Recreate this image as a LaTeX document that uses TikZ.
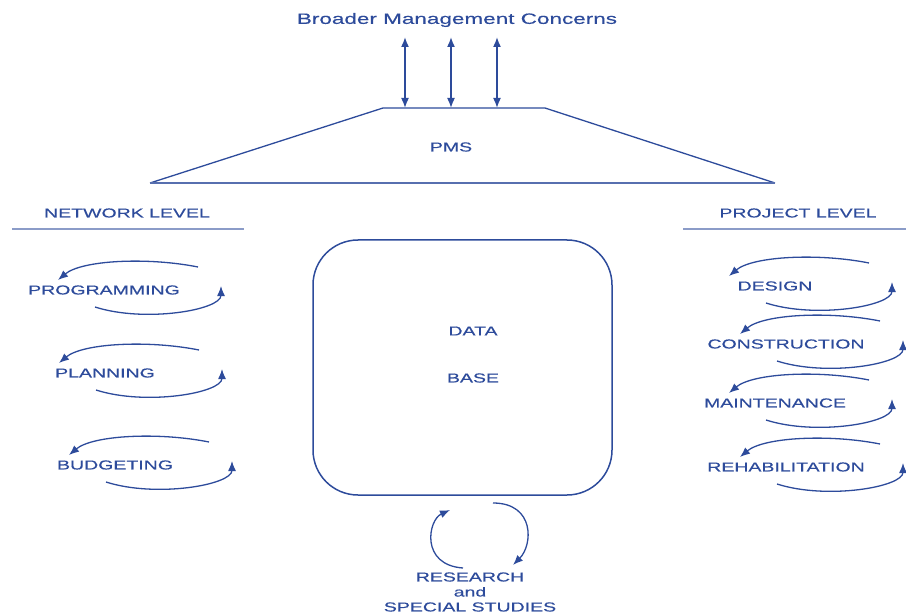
\documentclass[tikz,border=0pt]{standalone}
\usepackage{fontspec}
\usepackage{tikz}
\usetikzlibrary{arrows.meta,calc}
\newfontfamily\lblfont[FakeStretch=1.5,FakeBold=0.4]{Liberation Sans}
\definecolor{pmsblue}{RGB}{45,75,155}
\tikzset{
  lbl/.style={text=pmsblue,font=\lblfont\fontsize{13}{15}\selectfont,inner sep=1pt},
  lvl/.style={text=pmsblue,font=\lblfont\fontsize{13}{13}\selectfont,inner sep=1pt},
  loop/.style={draw=pmsblue,line width=1.3pt,-{Latex[length=10pt,width=8pt]}},
}
\begin{document}
\begin{tikzpicture}[x=1pt,y=-1pt]
      \useasboundingbox (0,0) rectangle (906,615);
      % top of the PMS block
      \node[lbl,font=\lblfont\fontsize{15}{15}\selectfont] (bmc) at (457,20) {Broader Management Concerns};
      \coordinate (tl) at (383,108);
      \coordinate (tr) at (545,108);
      \coordinate (bl) at (150,183);
      \coordinate (br) at (775,183);
      \draw[pmsblue,line width=1.3pt] (bl) -- (tl) -- (tr) -- (br);
      \draw[pmsblue!80,line width=2pt] (bl) -- (br);
      \node[lbl] (pms) at (451,147) {PMS};
      \foreach \x [count=\i] in {405,451,497} {
        \coordinate (up\i) at (\x,37);
        \coordinate (dn\i) at (\x,108);
        \draw[pmsblue,line width=1.6pt,{Latex[length=10pt,width=8pt]}-{Latex[length=10pt,width=8pt]}] (dn\i) -- (up\i);
      }
      % the two levels
      \node[lvl] (net) at (127,213) {NETWORK LEVEL};
      \node[lvl] (proj) at (798,213) {PROJECT LEVEL};
      \draw[pmsblue!55,line width=2.6pt] (12,229) -- (244,229);
      \draw[pmsblue!55,line width=2.6pt] (683,229) -- (906,229);
      % data base
      \node[draw=pmsblue,line width=1.5pt,rounded corners=45pt,minimum width=299pt,minimum height=255pt] (db) at (462.5,367.5) {};
      \node[lbl] (data) at (473,331) {DATA};
      \node[lbl] (base) at (473,378) {BASE};
      % activities with their cycles
      \foreach \name/\x/\y [count=\k] in {PROGRAMMING/104/290,PLANNING/105/373,BUDGETING/115/465,
          DESIGN/775/286,CONSTRUCTION/786/344,MAINTENANCE/775/403,REHABILITATION/786/467} {
        \node[lbl] (act\k) at (\x,\y) {\name};
        \draw[loop] ($(act\k)+(94,-23)$) .. controls +(-50,-10) and +(24,-20) .. ($(act\k)+(-46,-10)$);
        \draw[loop] ($(act\k)+(-9,17)$) .. controls +(50,16) and +(0,24) .. ($(act\k)+(117,-4)$);
      }
      % research
      \node[lbl,align=center] (res) at (470,592) {RESEARCH\\and\\SPECIAL STUDIES};
      \coordinate (rl) at (463,568);
      \coordinate (rr) at (513,565);
      \draw[loop] (rl) .. controls (420,565) and (428,520) .. (450,510);
      \draw[loop] (493,503) .. controls (535,503) and (533,545) .. (rr);
\end{tikzpicture}
\end{document}
